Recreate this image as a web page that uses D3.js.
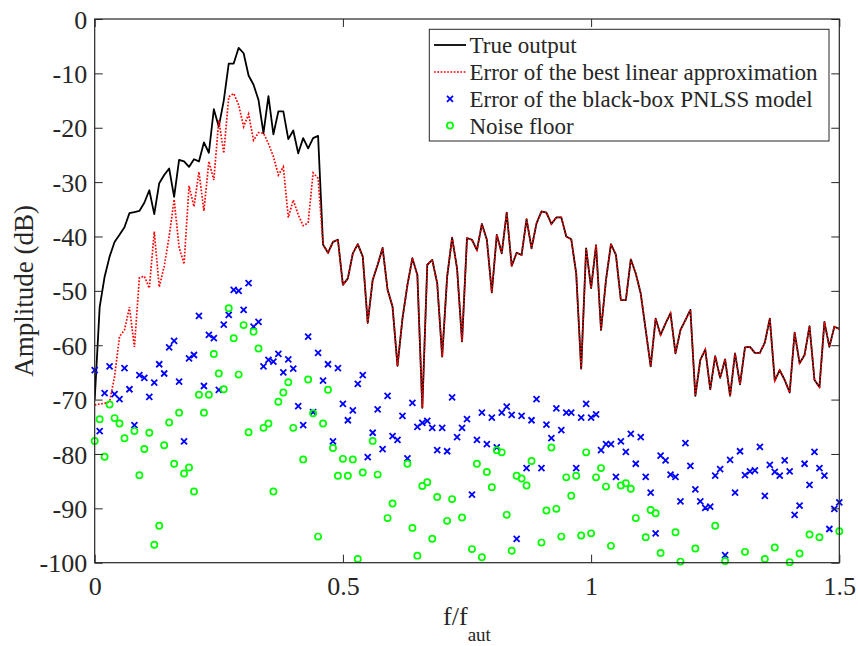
<!DOCTYPE html>
<html>
<head>
<meta charset="utf-8">
<script src="https://cdn.jsdelivr.net/npm/d3@7"></script>
<style>
body { margin: 0; background: #fff; }
text { font-family: "Liberation Serif", "Times New Roman", serif; fill: #262626; }
</style>
</head>
<body>
<svg id="chart" width="858" height="646"></svg>
<script>
// frequency lines, spacing of f/f_aut
const freqStep = 0.01;

// True output (dB), one value per frequency line
const trueOut = [
  -70, -53, -47.4, -43.7, -41.0, -39.7, -38.3, -35.7, -35.5, -35.3,
  -33.8, -31.5, -35.9, -30.2, -28.7, -27.5, -32.7, -25.9, -26.2, -27.2,
  -25.8, -26.2, -22.7, -24.6, -16.6, -19.8, -15.0, -8.2, -8.2, -5.3,
  -6.3, -10.4, -12.1, -14.9, -21.0, -14.2, -21.2, -17.0, -17.0, -22.1,
  -20.5, -24.7, -21.9, -23.8, -21.9, -21.5, -41.5, -43.0, -41.0, -40.6,
  -48.9, -47.7, -43.1, -41.4, -43.7, -55.9, -48.0, -45.2, -42.1, -49.8,
  -52.9, -63.8, -55.1, -48.9, -44.0, -47.1, -71.5, -45.2, -44.3, -48.6,
  -62.1, -47.4, -40.2, -45.9, -59.3, -40.3, -40.6, -42.5, -37.7, -40.6,
  -50.3, -39.7, -43.1, -35.6, -45.4, -43.0, -43.4, -36.8, -42.2, -37.6,
  -35.4, -35.6, -37.7, -36.5, -36.5, -40.0, -40.5, -46.8, -64.3, -42.2,
  -49.5, -41.6, -57.2, -48.0, -41.4, -43.4, -51.7, -51.7, -44.2, -46.8,
  -50.5, -57.2, -63.9, -55.1, -58.1, -56.0, -54.1, -61.5, -57.2, -55.4,
  -53.5, -69.3, -62.7, -60.8, -68.1, -62.0, -66.0, -62.6, -69.3, -61.5,
  -67.2, -60.4, -60.3, -61.4, -61.4, -59.5, -55.1, -66.5, -64.6, -66.4,
  -68.7, -57.7, -63.3, -61.8, -56.5, -66.4, -67.7, -55.7, -60.3, -56.6,
  -57.0
];

// Error of the best linear approximation (dB), low band; above it equals trueOut
const blaErrLow = [
  -71.0, -70.8, -70.7, -70.4, -65.8, -58.4, -57.2, -53.0, -60.3, -47.6,
  -47.3, -49.5, -39.1, -49.3, -45.5, -40.0, -33.2, -42.0, -45.1, -30.7,
  -34.5, -28.1, -35.3, -26.2, -29.6, -18.6, -24.7, -14.3, -13.7, -15.8,
  -19.8, -17.5, -22.3, -20.9, -21.0, -22.9, -25.3, -28.7, -27.2, -36.5,
  -33.3, -36.0, -38.0, -37.5, -28.3, -29.3
];

// Error of the black-box PNLSS model (dB)
const pnlssErr = [
  -64.6, -75.8, -68.8, -63.9, -69.0, -69.9, -64.2, -68.1, -74.7, -65.5,
  -66.0, -69.5, -66.9, -63.5, -65.2, -60.4, -59.2, -66.7, -77.7, -62.4,
  -61.8, -54.6, -67.5, -58.1, -58.7, -68.2, -56.2, -54.4, -49.8, -50.0,
  -53.5, -48.6, -56.6, -55.7, -63.9, -62.7, -63.0, -61.6, -65.0, -62.6,
  -64.3, -71.2, -74.7, -58.4, -72.3, -61.4, -66.5, -63.5, -77.7, -64.2,
  -70.8, -73.8, -72.0, -67.1, -65.5, -80.6, -76.1, -71.8, -79.1, -69.3,
  -76.7, -77.4, -73.0, -80.8, -70.6, -75.0, -74.3, -73.9, -75.2, -79.3,
  -75.2, -79.5, -69.6, -76.9, -75.2, -73.6, -87.5, -77.4, -72.4, -78.2,
  -73.3, -78.8, -72.4, -71.3, -72.8, -95.6, -73.0, -82.6, -73.8, -69.9,
  -82.6, -74.6, -77.1, -71.6, -75.6, -72.4, -72.4, -82.6, -73.3, -70.8,
  -73.3, -72.7, -79.3, -78.2, -78.2, -84.2, -77.7, -79.6, -76.3, -81.8,
  -76.9, -84.2, -87.1, -94.6, -80.3, -81.2, -83.8, -84.2, -88.7, -78.0,
  -82.2, -86.5, -88.7, -89.9, -89.7, -84.0, -82.8, -98.6, -81.1, -87.1,
  -79.5, -83.9, -83.2, -83.0, -78.7, -87.7, -82.0, -83.3, -84.0, -81.2,
  -83.2, -91.2, -89.5, -81.8, -85.7, -79.6, -82.6, -84.0, -93.8, -90.1,
  -88.9
];

// Noise floor (dB), null = below the axis limit
const noiseFloor = [
  -77.6, -73.6, -80.5, -70.9, -73.4, -74.4, -77.1, null, -75.8, -83.9,
  -79.1, -76.1, -96.7, -93.2, -78.4, -74.2, -81.8, -72.4, -83.6, -82.5,
  -86.9, -69.1, -72.4, -69.1, -61.6, -65.2, -68.1, -53.2, -58.7, -65.4,
  -56.3, -76.0, -57.5, -60.6, -75.2, -74.4, -86.9, -70.4, -68.7, -66.8,
  -75.2, null, -81.0, -66.3, -72.5, -95.2, -74.4, -68.2, -78.9, -84.0,
  -80.9, -84.0, -81.0, -99.3, -83.4, null, -77.6, -83.8, null, -91.8,
  -89.1, null, null, -81.8, -93.6, -98.7, -85.9, -85.2, -95.6, -87.9,
  null, -92.3, -88.3, null, -91.7, null, -97.5, -81.8, -99.0, -83.3,
  -86.1, -79.3, -79.7, -91.2, -97.8, -84.0, -84.5, -85.8, -81.3, null,
  -96.3, -90.4, -78.8, -90.1, -95.2, -84.3, -87.7, -84.0, -95.0, -79.7,
  -94.6, -84.3, -82.6, -86.0, -96.9, null, -85.8, -85.4, -86.4, -91.8,
  null, -95.3, -90.3, -90.9, -98.2, null, null, -94.4, -99.8, null,
  null, -97.4, null, null, null, -93.2, null, -99.7, null, null,
  null, -98.0, null, null, null, -99.3, null, -97.2, null, null,
  -99.9, null, -98.3, null, -94.8, null, -95.3, null, null, null,
  -94.2
];

const xTicks = [0, 0.5, 1, 1.5];
const yTicks = [0, -10, -20, -30, -40, -50, -60, -70, -80, -90, -100];
const legendLabels = [
  "True output",
  "Error of the best linear approximation",
  "Error of the black-box PNLSS model",
  "Noise floor"
];

const serif = "'Liberation Serif', 'Times New Roman', serif";
const svg = d3.select("#chart");
const W = 858, H = 646;
const margin = { top: 19, right: 18.7, bottom: 83.3, left: 94.7 };

const x = d3.scaleLinear().domain([0, 1.5]).range([margin.left, W - margin.right]);
const y = d3.scaleLinear().domain([-100, 0]).range([H - margin.bottom, margin.top]);

svg.append("rect").attr("width", W).attr("height", H).attr("fill", "#fff");

svg.append("clipPath").attr("id", "plotclip")
  .append("rect")
  .attr("x", x(0)).attr("y", y(0))
  .attr("width", x(1.5) - x(0)).attr("height", y(-100) - y(0));

const freq = d3.range(trueOut.length).map(i => i * freqStep);
const blaErr = blaErrLow.concat(trueOut.slice(blaErrLow.length));

const line = d3.line()
  .x((d, i) => x(freq[i]))
  .y(d => y(d));

const plot = svg.append("g").attr("clip-path", "url(#plotclip)");

// true output
plot.append("path")
  .datum(trueOut)
  .attr("d", line)
  .attr("fill", "none")
  .attr("stroke", "#000")
  .attr("stroke-width", 1.8)
  .attr("stroke-linejoin", "round");

// best linear approximation error, dotted
plot.append("path")
  .datum(blaErr)
  .attr("d", line)
  .attr("fill", "none")
  .attr("stroke", "#ff0000")
  .attr("stroke-width", 1.7)
  .attr("stroke-dasharray", "1.7,1.6");

const crossSize = 3;
function crossPath(cx, cy) {
  return `M${cx - crossSize},${cy - crossSize}L${cx + crossSize},${cy + crossSize}` +
         `M${cx - crossSize},${cy + crossSize}L${cx + crossSize},${cy - crossSize}`;
}

const inRange = v => v != null && v >= -100 && v <= 0;

// PNLSS error markers
svg.append("g")
  .selectAll("path")
  .data(pnlssErr.map((v, i) => [freq[i], v]).filter(d => inRange(d[1])))
  .enter().append("path")
    .attr("d", d => crossPath(x(d[0]), y(d[1])))
    .attr("stroke", "#0000ff")
    .attr("stroke-width", 1.8)
    .attr("fill", "none");

// noise floor markers
svg.append("g")
  .selectAll("circle")
  .data(noiseFloor.map((v, i) => [freq[i], v]).filter(d => inRange(d[1])))
  .enter().append("circle")
    .attr("cx", d => x(d[0]))
    .attr("cy", d => y(d[1]))
    .attr("r", 3.1)
    .attr("fill", "none")
    .attr("stroke", "#00ff00")
    .attr("stroke-width", 1.7);

// axes: ticks pointing inward on all four sides
const fmt = d => String(d);
const axisColor = "#262626";

const gx = svg.append("g")
  .attr("transform", `translate(0,${y(-100)})`)
  .call(d3.axisBottom(x).tickValues(xTicks).tickFormat(fmt)
    .tickSizeInner(-8).tickSizeOuter(0).tickPadding(14));

const gy = svg.append("g")
  .attr("transform", `translate(${x(0)},0)`)
  .call(d3.axisLeft(y).tickValues(yTicks).tickFormat(fmt)
    .tickSizeInner(-8).tickSizeOuter(0).tickPadding(7.5));
gy.selectAll("text").attr("dy", "0.35em");

[gx, gy].forEach(g => {
  g.attr("font-family", serif).attr("font-size", 26);
  g.selectAll("text").style("font-family", serif).style("font-size", "26px");
});

svg.append("g")
  .attr("transform", `translate(0,${y(0)})`)
  .call(d3.axisTop(x).tickValues(xTicks).tickFormat("")
    .tickSizeInner(-8).tickSizeOuter(0));

svg.append("g")
  .attr("transform", `translate(${x(1.5)},0)`)
  .call(d3.axisRight(y).tickValues(yTicks).tickFormat("")
    .tickSizeInner(-8).tickSizeOuter(0));

svg.selectAll(".domain").remove();
svg.selectAll(".tick line").attr("stroke", axisColor);
svg.selectAll(".tick text").attr("fill", axisColor);

svg.append("rect")
  .attr("x", x(0)).attr("y", y(0))
  .attr("width", x(1.5) - x(0)).attr("height", y(-100) - y(0))
  .attr("fill", "none")
  .attr("stroke", axisColor)
  .attr("stroke-width", 1.2);

// axis labels
const xl = svg.append("text")
  .attr("x", (x(0) + x(1.5)) / 2)
  .attr("y", 625)
  .attr("text-anchor", "middle")
  .style("font-size", "26px");
xl.append("tspan").text("f/f");
xl.append("tspan").attr("dy", 16).style("font-size", "19px").text("aut");

svg.append("text")
  .attr("transform", `translate(33,${(y(0) + y(-100)) / 2}) rotate(-90)`)
  .attr("text-anchor", "middle")
  .style("font-size", "27px")
  .text("Amplitude (dB)");

// legend
const legend = svg.append("g");
legend.append("rect")
  .attr("x", 429.3).attr("y", 29.3)
  .attr("width", 399.7).attr("height", 111.7)
  .attr("fill", "#fff")
  .attr("stroke", axisColor)
  .attr("stroke-width", 1);

const rowY = [45, 72, 98.8, 125.5];
const sampleX0 = 434, sampleX1 = 466, textX = 469.5;

legend.append("line")
  .attr("x1", sampleX0).attr("x2", sampleX1)
  .attr("y1", rowY[0]).attr("y2", rowY[0])
  .attr("stroke", "#000").attr("stroke-width", 1.8);
legend.append("line")
  .attr("x1", sampleX0).attr("x2", sampleX1)
  .attr("y1", rowY[1]).attr("y2", rowY[1])
  .attr("stroke", "#ff0000").attr("stroke-width", 1.7)
  .attr("stroke-dasharray", "1.7,1.6");
legend.append("path")
  .attr("d", crossPath((sampleX0 + sampleX1) / 2, rowY[2]))
  .attr("stroke", "#0000ff").attr("stroke-width", 1.8).attr("fill", "none");
legend.append("circle")
  .attr("cx", (sampleX0 + sampleX1) / 2).attr("cy", rowY[3]).attr("r", 3.1)
  .attr("fill", "none").attr("stroke", "#00ff00").attr("stroke-width", 1.7);

legend.selectAll("text.lab")
  .data(legendLabels)
  .enter().append("text")
    .attr("class", "lab")
    .attr("x", textX)
    .attr("y", (d, i) => rowY[i] + 8)
    .style("font-size", "23px")
    .attr("fill", "#000")
    .text(d => d);
</script>
</body>
</html>
